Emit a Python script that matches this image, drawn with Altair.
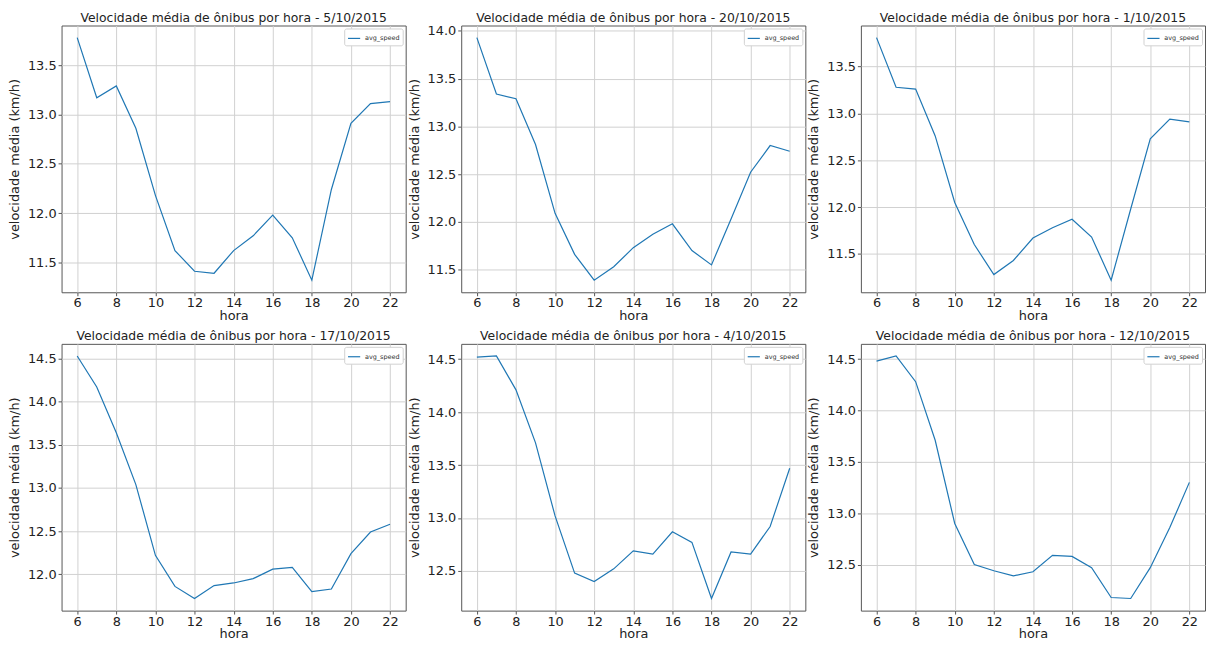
import altair as alt
import pandas as pd

hours = list(range(6, 23))
dates = ["5/10/2015", "20/10/2015", "1/10/2015", "17/10/2015", "4/10/2015", "12/10/2015"]

speed_05_10 = [13.78, 13.17, 13.29, 12.86, 12.18, 11.62, 11.41, 11.39, 11.62, 11.77, 11.98, 11.75, 11.32, 12.24, 12.91, 13.11, 13.13]
speed_20_10 = [13.93, 13.34, 13.29, 12.81, 12.09, 11.66, 11.39, 11.53, 11.73, 11.87, 11.98, 11.70, 11.55, 12.03, 12.52, 12.80, 12.74]
speed_01_10 = [13.81, 13.28, 13.26, 12.76, 12.05, 11.60, 11.28, 11.43, 11.67, 11.78, 11.87, 11.68, 11.22, 11.98, 12.73, 12.94, 12.91]
speed_17_10 = [14.53, 14.17, 13.64, 13.04, 12.22, 11.86, 11.72, 11.87, 11.90, 11.95, 12.06, 12.08, 11.80, 11.83, 12.24, 12.49, 12.58]
speed_04_10 = [14.52, 14.53, 14.21, 13.71, 13.02, 12.48, 12.40, 12.52, 12.69, 12.66, 12.87, 12.77, 12.24, 12.68, 12.66, 12.92, 13.47]
speed_12_10 = [14.48, 14.53, 14.28, 13.71, 12.90, 12.50, 12.44, 12.39, 12.43, 12.59, 12.58, 12.47, 12.18, 12.17, 12.47, 12.86, 13.30]

series = [speed_05_10, speed_20_10, speed_01_10, speed_17_10, speed_04_10, speed_12_10]
x_ticks = [6, 8, 10, 12, 14, 16, 18, 20, 22]

FONT = "DejaVu Sans"
W, H = 347, 269


def panel(date, values):
    df = pd.DataFrame({"hora": hours, "avg_speed": values, "serie": ["avg_speed"] * len(hours)})
    lo, hi = min(values), max(values)
    m = 0.05 * (hi - lo)
    dom = [lo - m, hi + m]
    yt = []
    v = int(dom[0] * 2) / 2.0
    while v <= dom[1]:
        if v >= dom[0]:
            yt.append(round(v, 1))
        v += 0.5
    return alt.Chart(df).mark_line(strokeWidth=1.2).encode(
        x=alt.X("hora:Q",
                scale=alt.Scale(domain=[5.2, 22.8], nice=False, zero=False),
                axis=alt.Axis(values=x_ticks, title="hora", format="d")),
        y=alt.Y("avg_speed:Q",
                scale=alt.Scale(domain=dom, nice=False, zero=False),
                axis=alt.Axis(values=yt, format=".1f", title="velocidade média (km/h)")),
        color=alt.Color("serie:N",
                        scale=alt.Scale(range=["#1f77b4"]),
                        legend=alt.Legend(title=None, orient="top-right", offset=3,
                                          symbolType="stroke", symbolSize=150,
                                          symbolStrokeWidth=1.2, labelFontSize=6.5,
                                          labelFont=FONT, labelColor="#333",
                                          fillColor="white", strokeColor="#d0d0d0",
                                          padding=3, cornerRadius=2)),
    ).properties(width=W, height=H,
                 title=alt.TitleParams(f"Velocidade média de ônibus por hora - {date}"))


charts = [panel(d, s) for d, s in zip(dates, series)]

chart = alt.concat(*charts, columns=3, spacing={"row": 52, "column": 56}, bounds="flush").resolve_scale(
    color="independent", x="independent", y="independent"
).resolve_legend(color="independent").properties(padding=0).configure_view(
    stroke="#555", strokeWidth=1
).configure_axis(
    labelFont=FONT, titleFont=FONT, labelFontSize=13, titleFontSize=13,
    labelColor="#222", titleColor="#222", titleFontWeight="normal",
    grid=True, gridColor="#d0d0d0", gridWidth=1,
    domain=False, tickColor="#555", tickSize=3.5, labelPadding=2,
).configure_axisX(titlePadding=0, labelPadding=1).configure_axisY(titlePadding=6).configure_title(
    font=FONT, fontSize=12.5, fontWeight="normal", color="#222", offset=1
)

chart.save("out.html", embed_options={"renderer": "svg", "actions": False})
